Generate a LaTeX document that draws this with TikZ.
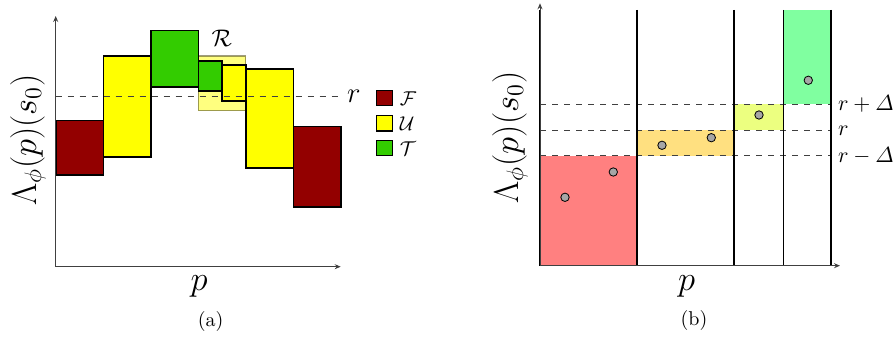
\documentclass[tikz,border=0pt]{standalone}
\usepackage{amsmath, amssymb}
\usepackage{tikz}
\usetikzlibrary{arrows.meta, positioning}

\definecolor{darkred}{RGB}{147,0,0}
\definecolor{pureyellow}{RGB}{255,255,0}
\definecolor{brightgreen}{RGB}{51,204,0}
\definecolor{lightred}{RGB}{255,128,128}
\definecolor{lightorange}{RGB}{255,224,128}
\definecolor{lightlime}{RGB}{236,255,128}
\definecolor{lightgreen}{RGB}{128,255,160}

\tikzset{
    bar/.style={draw=black, line width=0.8pt},
    axis/.style={-{Stealth[length=3pt, width=2.5pt]}, draw=black!75, line width=0.5pt},
    level/.style={dashed, draw=black!75, line width=0.5pt},
    wall/.style={draw=black, line width=0.8pt},
    legbox/.style={draw=black, line width=0.6pt, minimum width=7.8pt, minimum height=7.6pt, inner sep=0pt},
    sample/.style={circle, draw=black, fill=black!35, line width=0.4pt, minimum size=4.2pt, inner sep=0pt}
}

\begin{document}
\begin{tikzpicture}[x=0.5pt, y=-0.5pt]
    \useasboundingbox (0,0) rectangle (896,340);

    % ---------- (a) ----------
    \coordinate (aO) at (55.7,266.7);

    % Region R
    \fill[pureyellow, opacity=0.5] (198.3,56) rectangle (245.7,110.7);
    \draw[black!45!olive, opacity=0.6, line width=0.6pt] (198.3,56) rectangle (245.7,110.7);
    \node[font=\large] (rlab) at (221.7,38) {$\mathcal{R}$};

    % Bars
    \foreach \xa/\ya/\xb/\yb/\col in {
        55.7/120.7/103.3/175.3/darkred,
        103.3/56/151/157.3/pureyellow,
        151/30.7/198.3/87.3/brightgreen,
        198.3/61/222/91.3/brightgreen,
        222/65.3/245.7/101.3/pureyellow,
        245.7/69.3/293.3/168.3/pureyellow,
        293.3/126.7/340.7/207.3/darkred}
        \draw[bar, fill=\col] (\xa,\ya) rectangle (\xb,\yb);

    % Axes
    \draw[axis] (aO) -- (55.7,16);
    \draw[axis] (aO) -- (340.7,266.7);

    % Threshold
    \coordinate (aR) at (340,96.7);
    \draw[level] (55.7,96.7) -- (aR);
    \node[anchor=west, font=\Large] (ar) at (aR) {$r$};

    % Legend
    \node[legbox, fill=darkred] (legF) at (384.5,98.3) {};
    \node[legbox, fill=pureyellow] (legU) at (384.5,123.5) {};
    \node[legbox, fill=brightgreen] (legT) at (384.5,148.2) {};
    \node[right=0pt of legF] (labF) {$\mathcal{F}$};
    \node[right=0pt of legU] (labU) {$\mathcal{U}$};
    \node[right=0pt of legT] (labT) {$\mathcal{T}$};

    % Labels
    \node[rotate=90, font=\LARGE] (aylab) at (28,140) {$\Lambda_\phi(p)(s_0)$};
    \node[font=\LARGE] (axlab) at (199,286.5) {$p$};
    \node (acap) at (210.7,321.5) {(a)};

    % ---------- (b) ----------
    \coordinate (bO) at (540,265.7);

    % Bands
    \fill[lightred] (540,156) rectangle (636.7,265.7);
    \fill[lightorange] (636.7,130.3) rectangle (734,156);
    \fill[lightlime] (734,104.3) rectangle (783.3,130.3);
    \fill[lightgreen] (783.3,10) rectangle (831,104.3);

    % Levels
    \foreach \y/\lab/\nm in {104.3/{r+\varDelta}/up, 130.3/{r}/mid, 156/{r-\varDelta}/low} {
        \coordinate (b\nm) at (831,\y);
        \draw[level] (540,\y) -- (b\nm);
        \node[anchor=west, font=\fontsize{11}{13}\selectfont] (l\nm) at (b\nm) {$\lab$};
    }

    % Partition walls
    \foreach \x in {540, 636.7, 734, 783.3, 831}
        \draw[wall] (\x,10) -- (\x,265.7);

    % Axes
    \draw[axis] (bO) -- (540,3.3);
    \draw[axis] (bO) -- (840,265.7);

    % Samples
    \foreach \x/\y [count=\i] in {565/197.3, 613.3/172, 662/145.3, 711.3/137.7, 759/115, 808.3/80.3}
        \node[sample] (s\i) at (\x,\y) {};

    % Labels
    \node[rotate=90, font=\LARGE] (bylab) at (510,137.5) {$\Lambda_\phi(p)(s_0)$};
    \node[font=\LARGE] (bxlab) at (686.7,286.7) {$p$};
    \node (bcap) at (694,321) {(b)};
\end{tikzpicture}
\end{document}
